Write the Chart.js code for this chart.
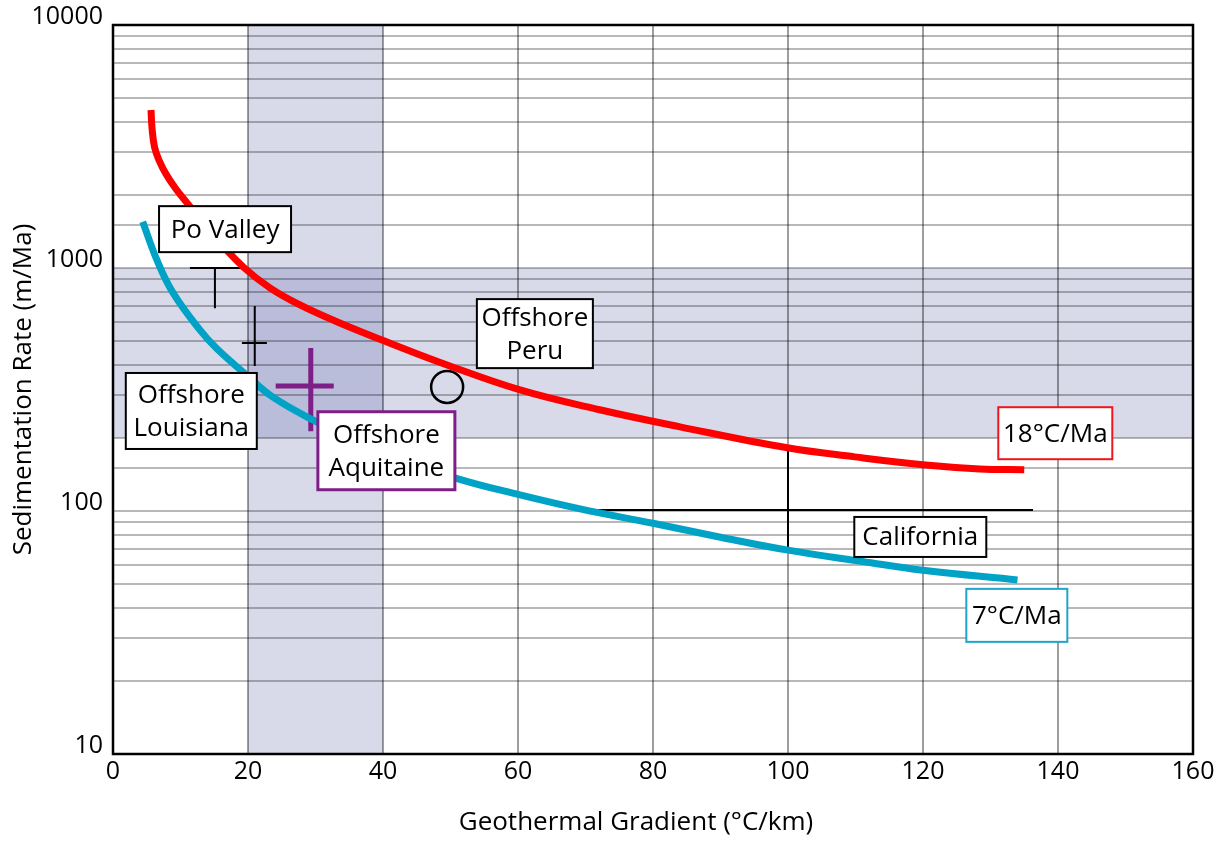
<!DOCTYPE html>
<html>
<head>
<meta charset="utf-8">
<script src="https://cdn.jsdelivr.net/npm/chart.js@4.4.1/dist/chart.umd.min.js"></script>
<style>
  html, body { margin: 0; background: #fff; }
  #wrap { width: 1228px; height: 841px; }
</style>
</head>
<body>
<div id="wrap"><canvas id="chart"></canvas></div>
<script>
// axis ticks
const xTicks = [0, 20, 40, 60, 80, 100, 120, 140, 160];
const yTicks = [10, 100, 1000, 10000];
const xTitle = "Geothermal Gradient (°C/km)";
const yTitle = "Sedimentation Rate (m/Ma)";

// 18°C/Ma curve
const gradient18 = [5.63, 5.78, 6.15, 6.81, 7.85, 9.33, 11, 14.8, 19.3, 23.3, 27.7, 33.6, 40.6, 49.5, 60.3, 72.1, 84, 99.9, 109.9, 120, 128.4, 135];
const rate18 = [4467, 3767, 3148, 2780, 2437, 2113, 1850, 1367, 1010, 827, 705, 594, 496, 399, 315, 261, 222, 182, 167, 155, 149, 148];

// 7°C/Ma curve
const gradient7 = [4.4, 6.5, 8.9, 12.9, 15.4, 19.9, 23.7, 29.6, 40, 51, 60, 69.2, 80, 90, 100, 111, 120, 134];
const rate7 = [1550, 1080, 790, 555, 465, 360, 294, 237, 172, 136, 117, 102, 89, 78, 69, 62, 57, 52];

// shaded ranges
const bandGradient = [20, 40];
const bandRate = [200, 1000];

// site markers: [x1, y1, x2, y2] segments
const poValley = [[11.4, 1000, 19.0, 1000], [15.1, 1000, 15.1, 683]];
const louisiana = [[19.1, 491, 22.8, 491], [21.0, 698, 21.0, 395]];
const aquitaine = [[24.1, 327, 32.7, 327], [29.3, 469, 29.3, 213]];
const california = [[70.7, 101, 136.3, 101], [100, 183, 100, 69]];
const peru = [49.5, 324];

const labels = [
  { text: ["Po Valley"], x: 16.6, y: 1445, w: 132, h: 46, color: "#000", lw: 2 },
  { text: ["Offshore", "Louisiana"], x: 11.6, y: 258, w: 131, h: 76, color: "#000", lw: 2 },
  { text: ["Offshore", "Aquitaine"], x: 40.5, y: 177, w: 137, h: 78, color: "#7d1f86", lw: 3 },
  { text: ["Offshore", "Peru"], x: 62.5, y: 537, w: 116, h: 69, color: "#000", lw: 2 },
  { text: ["18°C/Ma"], x: 139.6, y: 209, w: 114, h: 52, color: "#f0141e", lw: 2 },
  { text: ["7°C/Ma"], x: 133.9, y: 37.2, w: 101, h: 53, color: "#1ea6c8", lw: 2 },
  { text: ["California"], x: 119.6, y: 78.2, w: 132, h: 40, color: "#000", lw: 2 }
];

function toPoints(xs, ys) {
  return xs.map((x, i) => ({ x: x, y: ys[i] }));
}

function segments(list) {
  const pts = [];
  for (const s of list) {
    pts.push({ x: s[0], y: s[1] }, { x: s[2], y: s[3] }, { x: s[2], y: null });
  }
  return pts;
}

function markerSet(list, color, width) {
  return {
    data: segments(list),
    showLine: true,
    spanGaps: false,
    borderColor: color,
    borderWidth: width,
    pointRadius: 0,
    tension: 0
  };
}

Chart.defaults.font.family = "'Open Sans', sans-serif";
Chart.defaults.color = "#000";

const bandsPlugin = {
  id: "bands",
  beforeDraw(chart) {
    const { ctx, chartArea, scales } = chart;
    const x1 = scales.x.getPixelForValue(bandGradient[0]);
    const x2 = scales.x.getPixelForValue(bandGradient[1]);
    const y1 = scales.y.getPixelForValue(bandRate[1]);
    const y2 = scales.y.getPixelForValue(bandRate[0]);
    ctx.save();
    ctx.fillStyle = "rgba(60, 70, 150, 0.2)";
    ctx.fillRect(x1, chartArea.top, x2 - x1, chartArea.bottom - chartArea.top);
    ctx.fillRect(chartArea.left, y1, chartArea.right - chartArea.left, y2 - y1);
    ctx.restore();
  }
};

const labelsPlugin = {
  id: "siteLabels",
  afterDatasetsDraw(chart) {
    const { ctx, chartArea, scales } = chart;
    ctx.save();
    ctx.strokeStyle = "#000";
    ctx.lineWidth = 2.5;
    ctx.strokeRect(chartArea.left, chartArea.top, chartArea.right - chartArea.left, chartArea.bottom - chartArea.top);
    ctx.font = "26px 'Open Sans'";
    ctx.textAlign = "center";
    ctx.textBaseline = "middle";
    for (const lab of labels) {
      const cx = scales.x.getPixelForValue(lab.x);
      const cy = scales.y.getPixelForValue(lab.y);
      ctx.fillStyle = "#fff";
      ctx.fillRect(cx - lab.w / 2, cy - lab.h / 2, lab.w, lab.h);
      ctx.strokeStyle = lab.color;
      ctx.lineWidth = lab.lw;
      ctx.strokeRect(cx - lab.w / 2, cy - lab.h / 2, lab.w, lab.h);
      ctx.fillStyle = "#000";
      const lineH = 33;
      const top = cy - (lab.text.length - 1) * lineH / 2;
      lab.text.forEach((t, i) => ctx.fillText(t, cx, top + i * lineH + 1));
    }
    // x axis title, a little left of the plot centre as in the original
    ctx.fillText(xTitle, 636, 823);
    ctx.restore();
  }
};

new Chart(document.getElementById("chart"), {
  type: "scatter",
  data: {
    datasets: [
      {
        data: toPoints(gradient18, rate18),
        showLine: true,
        borderColor: "#ff0000",
        borderWidth: 7,
        pointRadius: 0,
        tension: 0.4
      },
      {
        data: toPoints(gradient7, rate7),
        showLine: true,
        borderColor: "#00a2c6",
        borderWidth: 7,
        pointRadius: 0,
        tension: 0.4
      },
      markerSet(poValley, "#000", 2),
      markerSet(louisiana, "#000", 2),
      markerSet(aquitaine, "#7d1f86", 5),
      markerSet(california, "#000", 2),
      {
        data: [{ x: peru[0], y: peru[1] }],
        pointRadius: 16,
        pointBorderWidth: 2.5,
        pointBackgroundColor: "rgba(0,0,0,0)",
        pointBorderColor: "#000"
      }
    ]
  },
  options: {
    responsive: true,
    maintainAspectRatio: false,
    animation: false,
    layout: { padding: { left: 0, right: 35, top: 25, bottom: 0 } },
    plugins: {
      legend: { display: false },
      tooltip: { enabled: false }
    },
    scales: {
      x: {
        type: "linear",
        min: 0,
        max: 160,
        afterFit(scale) { scale.height = 87; },
        afterBuildTicks(scale) { scale.ticks = xTicks.map((v) => ({ value: v })); },
        ticks: { font: { size: 25 }, padding: 3, color: "#000" },
        grid: { color: "rgba(0,0,0,0.38)", lineWidth: 2, drawTicks: false },
        border: { display: false }
      },
      y: {
        type: "logarithmic",
        min: 10,
        max: 10000,
        afterFit(scale) { scale.width = 113; },
        ticks: {
          autoSkip: false,
          font: { size: 25 },
          padding: 10,
          labelOffset: -8,
          color: "#000",
          callback: (v) => (yTicks.includes(v) ? String(v) : "")
        },
        grid: { color: "rgba(0,0,0,0.28)", lineWidth: 2, drawTicks: false },
        border: { display: false },
        title: {
          display: true,
          text: yTitle,
          font: { size: 26 },
          color: "#000",
          padding: { top: 8, bottom: 0 }
        }
      }
    }
  },
  plugins: [bandsPlugin, labelsPlugin]
});
</script>
</body>
</html>
